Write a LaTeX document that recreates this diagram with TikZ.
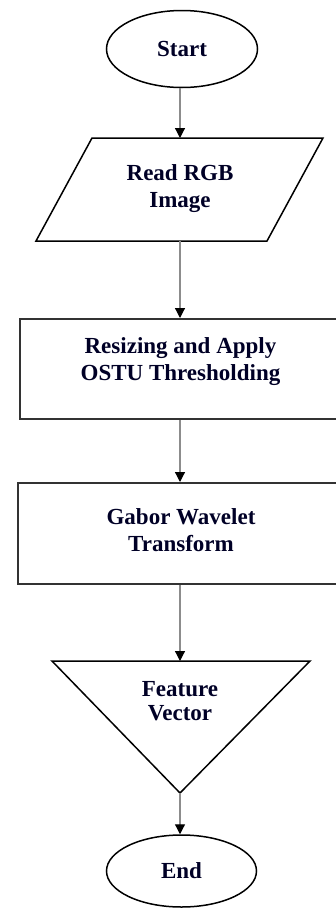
\documentclass[tikz,border=0pt]{standalone}
\usepackage{fontspec}
\setmainfont{Liberation Serif}
\usetikzlibrary{shapes.geometric,arrows.meta}
\begin{document}
\begin{tikzpicture}[x=0.5pt,y=-0.5pt,
  shapeline/.style={draw=black,line width=0.75pt},
  boxline/.style={draw=black!80,line width=1pt},
  txt/.style={font=\fontsize{11.5}{13.5}\selectfont\bfseries,align=center,text=black!85!blue,inner sep=0pt},
  flow/.style={draw=black!45,line width=0.6pt,-{Triangle[black,length=5pt,width=5pt]}}]
\useasboundingbox (0,0) rectangle (336,910);
\node[ellipse,shapeline,minimum width=75.5pt,minimum height=38.5pt,inner sep=0pt] (start) at (182,49) {};
\node[txt] (starttxt) at (start.center) {Start};
\coordinate (pbl) at (36,241);
\coordinate (pbr) at (267,241);
\coordinate (ptr) at (323,138);
\coordinate (ptl) at (92,138);
\coordinate (ptop) at (180,138);
\coordinate (pbot) at (180,241);
\draw[shapeline,line join=miter] (pbl) -- (pbr) -- (ptr) -- (ptl) -- cycle;
\node[txt] (readtxt) at (180,189) {Read RGB\\Image};
\node[rectangle,boxline,minimum width=161pt,minimum height=50pt,inner sep=0pt] (resize) at (181,369) {};
\node[txt] (resizetxt) at (180.5,362) {Resizing and Apply\\OSTU Thresholding};
\node[rectangle,boxline,minimum width=163pt,minimum height=50.5pt,inner sep=0pt] (gabor) at (181,533.5) {};
\node[txt] (gabortxt) at (181,530) {Gabor Wavelet\\Transform};
\coordinate (tl) at (52,661);
\coordinate (tr) at (310,661);
\coordinate (tip) at (180,793);
\coordinate (ttop) at (180,661);
\draw[shapeline,line join=miter] (tl) -- (tr) -- (tip) -- cycle;
\node[txt,font=\fontsize{11.5}{12}\selectfont\bfseries] (feat) at (180,701) {Feature\\Vector};
\node[ellipse,shapeline,minimum width=75pt,minimum height=36pt,inner sep=0pt] (end) at (181.5,871) {};
\node[txt] (endtxt) at (end.center) {End};
\draw[flow] (start.south -| ptop) -- (ptop);
\draw[flow] (pbot) -- (resize.north -| pbot);
\draw[flow] (resize.south -| pbot) -- (gabor.north -| pbot);
\draw[flow] (gabor.south -| pbot) -- (ttop);
\draw[flow] (tip) -- (end.north -| tip);
\end{tikzpicture}
\end{document}
